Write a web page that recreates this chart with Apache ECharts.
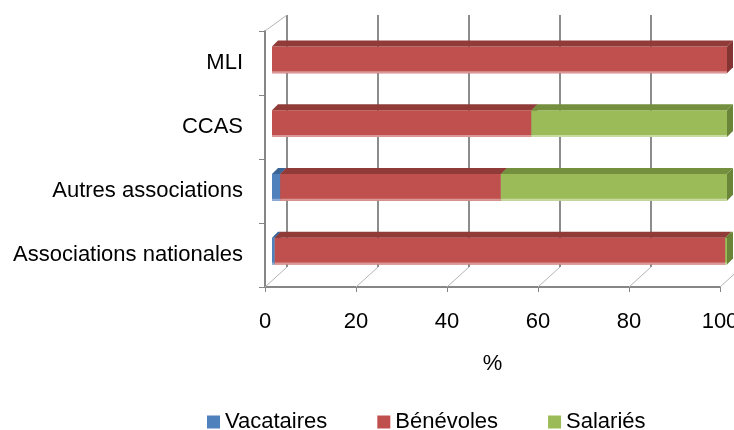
<!DOCTYPE html>
<html>
<head>
<meta charset="utf-8">
<script src="https://cdn.jsdelivr.net/npm/echarts@6/dist/echarts.min.js"></script>
<style>
  html, body { margin: 0; padding: 0; background: #fff; }
  #chart { width: 734px; height: 430px; }
</style>
</head>
<body>
<div id="chart"></div>
<script>
// Répartition des intervenants par type de structure (%)
const categories = ['Associations nationales', 'Autres associations', 'CCAS', 'MLI'];
const vacataires = [0.6, 1.8, 0, 0];
const benevoles = [99.0, 48.5, 57.0, 100];
const salaries = [0.4, 49.7, 43.0, 0];
const xTicks = [0, 20, 40, 60, 80, 100];

const seriesDefs = [
  { name: 'Vacataires', values: vacataires, front: '#4F81BD', top: '#3A6396', side: '#325684', light: '#8EADD6' },
  { name: 'Bénévoles', values: benevoles, front: '#C0504D', top: '#913B39', side: '#843432', light: '#DA9795' },
  { name: 'Salariés', values: salaries, front: '#9BBB59', top: '#748F3E', side: '#6A8438', light: '#C7DAA2' }
];

// depth of the bar boxes and of the chart walls, in pixels
const BAR_DX = 6, BAR_DY = 6;
const WALL_DX = 22, WALL_DY = 20;
const FONT = 'Liberation Sans, Arial, sans-serif';

// cumulative start / end for each stacked segment
const base = categories.map(() => 0);
const stacked = seriesDefs.map(def => {
  return def.values.map((v, i) => {
    const s = base[i];
    base[i] += v;
    return [s, base[i], i];
  });
});

function boxRenderer(def) {
  return function (params, api) {
    const s = api.value(0), e = api.value(1), c = api.value(2);
    if (e - s <= 0) return null;
    const p0 = api.coord([s, c]);
    const p1 = api.coord([e, c]);
    const h = api.size([0, 1])[1] * 0.42;
    const x0 = p0[0], x1 = p1[0];
    const y0 = p0[1] - h / 2;
    return {
      type: 'group',
      children: [
        { type: 'rect', shape: { x: x0, y: y0, width: x1 - x0, height: h }, style: { fill: def.front } },
        { type: 'rect', shape: { x: x0, y: y0 + h - 2, width: x1 - x0, height: 2 }, style: { fill: def.light } },
        { type: 'polygon', shape: { points: [[x0, y0], [x0 + BAR_DX, y0 - BAR_DY], [x1 + BAR_DX, y0 - BAR_DY], [x1, y0]] }, style: { fill: def.top } },
        { type: 'polygon', shape: { points: [[x1, y0], [x1 + BAR_DX, y0 - BAR_DY], [x1 + BAR_DX, y0 + h - BAR_DY], [x1, y0 + h]] }, style: { fill: def.side } }
      ]
    };
  };
}

// floor receding lines and the top edge of the side wall
function frameRenderer(params, api) {
  const v = api.value(0);
  const cs = params.coordSys;
  const bottom = cs.y + cs.height;
  const x = api.coord([v, 0])[0];
  const children = [
    { type: 'line', shape: { x1: x, y1: bottom, x2: x + WALL_DX, y2: bottom - WALL_DY }, style: { stroke: '#b4b4b4', lineWidth: 1 } }
  ];
  if (params.dataIndex === 0) {
    children.push({ type: 'line', shape: { x1: x, y1: cs.y, x2: x + WALL_DX, y2: cs.y - 16 }, style: { stroke: '#b4b4b4', lineWidth: 1 } });
  }
  return { type: 'group', children: children };
}

const chart = echarts.init(document.getElementById('chart'), null, { renderer: 'canvas' });

chart.setOption({
  animation: false,
  backgroundColor: '#ffffff',
  textStyle: { fontFamily: FONT },
  grid: [
    { left: 287, top: 15, width: 455, height: 252, outerBoundsMode: 'none' },   // back wall
    { left: 265, top: 31, width: 455, height: 256, outerBoundsMode: 'none' },   // front frame with axes
    { left: 272, top: 28, width: 455, height: 255, outerBoundsMode: 'none' }    // bars
  ],
  legend: {
    data: seriesDefs.map(d => d.name),
    left: 202,
    top: 406,
    icon: 'rect',
    itemWidth: 13,
    itemHeight: 13,
    itemGap: 50,
    textStyle: { fontSize: 22, color: '#000', fontFamily: FONT }
  },
  xAxis: [
    {
      gridIndex: 0, type: 'value', min: 0, max: 100, interval: 20,
      axisLine: { show: false }, axisTick: { show: false }, axisLabel: { show: false },
      splitLine: { show: true, lineStyle: { color: '#8c8c8c', width: 2 } }
    },
    {
      gridIndex: 1, type: 'value', min: 0, max: 100, interval: 20,
      name: '%', nameLocation: 'middle', nameGap: 66,
      nameTextStyle: { fontSize: 22, color: '#000', fontFamily: FONT },
      axisLine: { show: true, lineStyle: { color: '#868686', width: 2 } },
      axisTick: { show: true, length: 5, lineStyle: { color: '#868686', width: 1 } },
      axisLabel: { fontSize: 22, color: '#000', margin: 24, fontFamily: FONT,
        formatter: v => xTicks.indexOf(v) >= 0 ? String(v) : '' },
      splitLine: { show: false }
    },
    {
      gridIndex: 2, type: 'value', min: 0, max: 100, show: false
    }
  ],
  yAxis: [
    {
      gridIndex: 0, type: 'category', data: categories, show: false
    },
    {
      gridIndex: 1, type: 'category', data: categories,
      axisLine: { show: true, lineStyle: { color: '#868686', width: 2 } },
      axisTick: { show: true, length: 6, lineStyle: { color: '#868686', width: 1 } },
      axisLabel: { fontSize: 22, color: '#000', margin: 22, fontFamily: FONT },
      splitLine: { show: false }
    },
    {
      gridIndex: 2, type: 'category', data: categories, show: false
    }
  ],
  series: [
    {
      type: 'custom', name: 'frame', xAxisIndex: 1, yAxisIndex: 1, silent: true,
      data: xTicks.map(v => [v]),
      encode: { x: 0 },
      renderItem: frameRenderer,
      z: 1
    }
  ].concat(seriesDefs.map((def, k) => ({
    type: 'custom',
    name: def.name,
    xAxisIndex: 2, yAxisIndex: 2,
    silent: true,
    itemStyle: { color: def.front },
    data: stacked[k],
    encode: { x: [0, 1], y: 2 },
    renderItem: boxRenderer(def),
    z: 3
  })))
});
</script>
</body>
</html>
